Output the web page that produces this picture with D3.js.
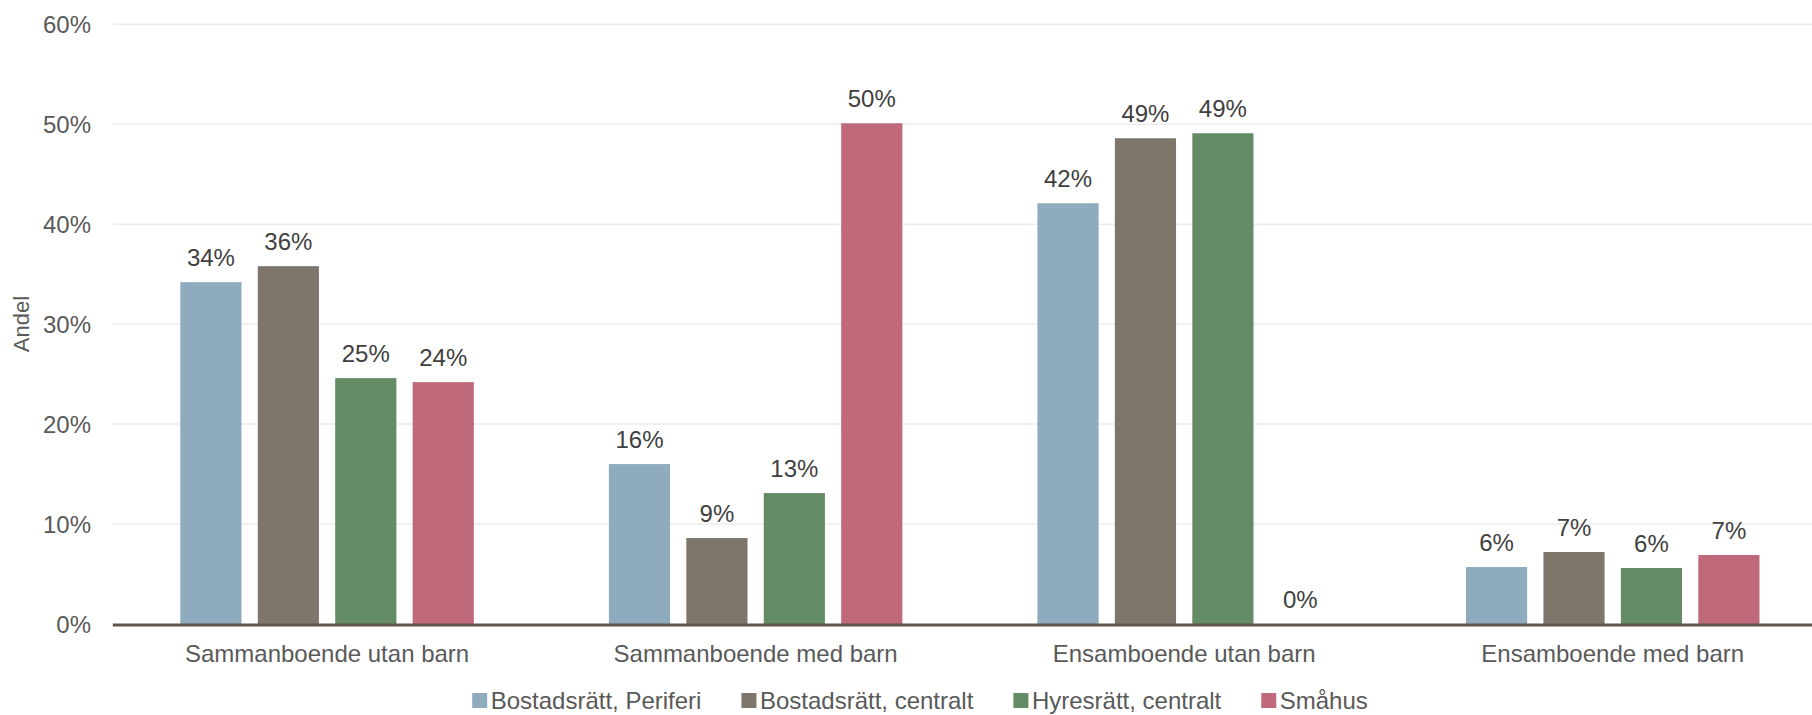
<!DOCTYPE html>
<html><head><meta charset="utf-8">
<script src="https://cdn.jsdelivr.net/npm/d3@7"></script>
<style>body{margin:0;background:#fff}svg{display:block}text{font-family:"Liberation Sans",Arial,sans-serif}</style>
</head><body>
<svg id="c" width="1812" height="715"></svg>
<script>
const categories = ["Sammanboende utan barn","Sammanboende med barn","Ensamboende utan barn","Ensamboende med barn"];
const seriesNames = ["Bostadsrätt, Periferi","Bostadsrätt, centralt","Hyresrätt, centralt","Småhus"];
const seriesColors = ["#8facbf","#7f766b","#638b66","#bf697b"];
const periferi = [34.2, 16.0, 42.1, 5.7];
const centralt = [35.8, 8.6, 48.6, 7.2];
const hyresratt = [24.6, 13.1, 49.1, 5.6];
const smahus = [24.2, 50.1, 0, 6.9];
const yTicks = [0,10,20,30,40,50,60];
const seriesValues = [periferi, centralt, hyresratt, smahus];

(function(){
const svg = d3.select("#c");
const mLeft = 112.8, mRight = 1827, mTop = 24.3, mBottom = 624;
const FS = 24;
const y = d3.scaleLinear().domain([0,60]).range([mBottom, mTop]);
const x0 = d3.scaleBand().domain(categories).range([mLeft, mRight]).paddingInner(0).paddingOuter(0);
const x1 = d3.scaleBand().domain(seriesNames).range([0, x0.bandwidth()]).paddingInner(0.21).paddingOuter(0.872);

// gridlines
svg.append("g").selectAll("line").data(yTicks.filter(d=>d>0)).join("line")
  .attr("x1", mLeft).attr("x2", 1812).attr("y1", d=>y(d)).attr("y2", d=>y(d))
  .attr("stroke", "#ececec").attr("stroke-width", 1.5);

// y axis labels
const yAxis = d3.axisLeft(y).tickValues(yTicks).tickFormat(d=>d+"%").tickSize(0).tickPadding(0);
const ya = svg.append("g").attr("transform", `translate(91,0)`).call(yAxis);
ya.select(".domain").remove();
ya.selectAll("text").attr("font-size", FS).attr("fill", "#595959").attr("font-family","Liberation Sans, Arial, sans-serif").attr("dy","0.35em");

// y title
svg.append("text").attr("transform", "translate(29,324) rotate(-90)").attr("text-anchor","middle")
  .attr("font-size", 22).attr("fill", "#595959").text("Andel");

// bars
const rows = [];
categories.forEach((c, ci) => seriesNames.forEach((s, si) => rows.push({c, s, si, v: seriesValues[si][ci]})));
const g = svg.append("g");
g.selectAll("rect").data(rows).join("rect")
  .attr("x", d => x0(d.c) + x1(d.s)).attr("width", x1.bandwidth())
  .attr("y", d => y(d.v)).attr("height", d => mBottom - y(d.v))
  .attr("fill", d => seriesColors[d.si]);

// labels
g.selectAll("text").data(rows).join("text")
  .attr("x", d => x0(d.c) + x1(d.s) + x1.bandwidth()/2)
  .attr("y", d => y(d.v) - 16)
  .attr("text-anchor","middle").attr("font-size", FS).attr("fill","#404040")
  .text(d => Math.round(d.v) + "%");

// baseline axis
svg.append("line").attr("x1", mLeft).attr("x2", 1812).attr("y1", mBottom+1).attr("y2", mBottom+1)
  .attr("stroke", "#5e564e").attr("stroke-width", 3);

// x axis labels
const xAxis = d3.axisBottom(x0).tickSize(0).tickPadding(0);
const xa = svg.append("g").attr("transform", `translate(0,${mBottom})`).call(xAxis);
xa.select(".domain").remove();
xa.selectAll("text").attr("font-size", FS).attr("fill","#595959").attr("font-family","Liberation Sans, Arial, sans-serif")
  .attr("dy", null).attr("y", 38);

// legend
const lg = svg.append("g");
const items = [];
let cx = 0;
seriesNames.forEach((s, i) => {
  const t = lg.append("text").attr("font-size", FS).attr("fill","#595959").attr("y", 709).text(s);
  const w = t.node().getComputedTextLength();
  items.push({t, sx: cx, i});
  t.attr("x", cx + 18.5);
  cx += 18.5 + w + 40;
});
const totalW = cx - 40;
const offset = 920 - totalW/2;
lg.attr("transform", `translate(${offset},0)`);
items.forEach(it => {
  lg.append("rect").attr("x", it.sx).attr("y", 693).attr("width", 15).attr("height", 15).attr("fill", seriesColors[it.i]);
});
})();
</script>
</body></html>
